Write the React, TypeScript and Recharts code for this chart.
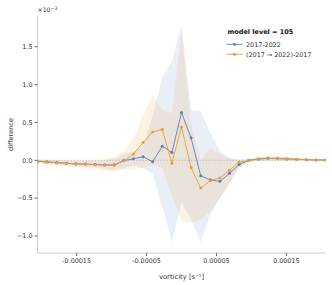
import { ComposedChart, Area, Line, XAxis, YAxis, ReferenceLine } from 'recharts'

// bin centres of vorticity [s^-1]
const vorticity = [
  -0.000206, -0.0001923, -0.0001785, -0.0001648, -0.0001511, -0.0001373, -0.0001236, -0.0001099,
  -0.0000961, -0.0000824, -0.0000687, -0.0000549, -0.0000412, -0.0000275, -0.0000137, 0,
  0.0000137, 0.0000275, 0.0000412, 0.0000549, 0.0000687, 0.0000824, 0.0000961, 0.0001099,
  0.0001236, 0.0001373, 0.0001511, 0.0001648, 0.0001785, 0.0001923, 0.000206,
]

// difference, in units of 1e-3
const diff1722 = [
  -0.012, -0.02, -0.03, -0.038, -0.046, -0.05, -0.054, -0.06, -0.06, -0.004, 0.02, 0.048, -0.018,
  0.187, 0.103, 0.63, 0.297, -0.205, -0.258, -0.278, -0.172, -0.055, 0.0, 0.018, 0.028, 0.024,
  0.018, 0.013, 0.009, 0.005, 0.003,
]
const diffPert = [
  -0.013, -0.022, -0.032, -0.04, -0.049, -0.053, -0.058, -0.066, -0.066, -0.005, 0.083, 0.235,
  0.375, 0.406, -0.038, 0.44, -0.095, -0.366, -0.27, -0.232, -0.13, -0.026, -0.004, 0.016, 0.024,
  0.022, 0.018, 0.012, 0.008, 0.005, 0.003,
]

// spread bands
const low1722 = [
  -0.035, -0.045, -0.058, -0.07, -0.08, -0.085, -0.09, -0.11, -0.12, -0.1, -0.07, -0.1, -0.18,
  -0.62, -1.08, -0.55, -0.78, -1.08, -0.72, -0.5, -0.3, -0.1, -0.02, -0.005, 0, 0, 0, 0, 0, 0, 0,
]
const high1722 = [
  0.012, 0.005, 0, -0.005, -0.008, -0.01, -0.01, 0, 0.02, 0.08, 0.12, 0.18, 0.6, 1.1, 1.3, 1.78,
  0.66, 0.65, 0.36, 0.12, 0.03, 0, 0.015, 0.04, 0.055, 0.05, 0.04, 0.03, 0.02, 0.012, 0.008,
]
const lowPert = [
  -0.04, -0.05, -0.065, -0.08, -0.09, -0.1, -0.11, -0.14, -0.15, -0.12, -0.12, -0.1, -0.06, -0.1,
  -0.46, -0.8, -0.82, -0.78, -0.68, -0.5, -0.3, -0.08, -0.02, -0.01, -0.01, -0.01, -0.005, -0.005,
  -0.003, -0.002, -0.001,
]
const highPert = [
  0.01, 0.005, 0, -0.002, -0.005, -0.005, 0, 0.02, 0.05, 0.12, 0.28, 0.6, 0.87, 0.66, 0.62, 1.7,
  0.47, 0.0, 0.16, 0.08, 0.03, 0.015, 0.02, 0.04, 0.05, 0.05, 0.04, 0.03, 0.02, 0.012, 0.008,
]

const xTicks = [-0.00015, -0.00005, 0.00005, 0.00015]
const yTicks = [-1.0, -0.5, 0.0, 0.5, 1.0, 1.5]

const BLUE = '#5a7fbe'
const ORANGE = '#e8a030'

const data = vorticity.map((v, i) => ({
  v,
  a: diff1722[i],
  b: diffPert[i],
  aBand: [low1722[i], high1722[i]],
  bBand: [lowPert[i], highPert[i]],
}))

const fmtY = (v: number) => (v < 0 ? '\u2212' + Math.abs(v).toFixed(1) : v.toFixed(1))

const font = 'DejaVu Sans'

export default function App() {
  return (
    <div style={{ position: 'fixed', left: 0, top: 0, width: 332, height: 285, background: '#fff', fontFamily: font }}>
      <ComposedChart width={332} height={285} data={data} margin={{ top: 16, right: 6.5, bottom: 4, left: 7.5 }}>
        <XAxis
          dataKey="v"
          type="number"
          domain={[-0.000206, 0.000206]}
          ticks={xTicks}
          tickFormatter={(v) => String(v)}
          allowDataOverflow
          height={28}
          stroke="#cccccc"
          tickLine={{ stroke: '#666' }}
          tickSize={3}
          tick={{ fill: '#333', fontSize: 6.4, fontFamily: font }}
          label={{ value: 'vorticity [s\u207B\u00B9]', position: 'insideBottom', offset: 2, style: { fill: '#333', fontSize: 6.8, fontFamily: font } }}
        />
        <XAxis xAxisId="top" orientation="top" dataKey="v" type="number" domain={[-0.000206, 0.000206]} tick={false} tickLine={false} height={0} stroke="#cccccc" />
        <YAxis
          type="number"
          domain={[-1.224, 1.906]}
          ticks={yTicks}
          tickFormatter={fmtY}
          allowDataOverflow
          width={30}
          stroke="#cccccc"
          tickLine={{ stroke: '#666' }}
          tickSize={3}
          tickMargin={2}
          tick={{ fill: '#333', fontSize: 6.4, fontFamily: font }}
          label={{ value: 'difference', angle: -90, position: 'insideLeft', offset: 3, style: { textAnchor: 'middle', fill: '#333', fontSize: 6.6, fontFamily: font } }}
        />
        <YAxis yAxisId="right" orientation="right" width={0} tick={false} tickLine={false} stroke="#cccccc" />
        <ReferenceLine y={0} stroke="#b5b5b5" strokeWidth={0.8} strokeDasharray="1.5 1.5" />
        <Area type="linear" dataKey="aBand" stroke="none" fill={BLUE} fillOpacity={0.13} isAnimationActive={false} />
        <Line type="linear" dataKey="a" stroke={BLUE} strokeWidth={0.9} dot={{ r: 1.5, fill: BLUE, stroke: 'none' }} isAnimationActive={false} />
        <Area type="linear" dataKey="bBand" stroke="none" fill={ORANGE} fillOpacity={0.14} isAnimationActive={false} />
        <Line type="linear" dataKey="b" stroke={ORANGE} strokeWidth={0.9} dot={{ r: 1.5, fill: ORANGE, stroke: 'none' }} isAnimationActive={false} />
      </ComposedChart>
      <svg width={332} height={285} style={{ position: 'absolute', left: 0, top: 0, pointerEvents: 'none' }}>
        <text x={37.5} y={12} fontSize={6.2} fill="#333" fontFamily={font}>
          ×10<tspan dy={-2.5} fontSize={4.6}>{'\u22123'}</tspan>
        </text>
        <text x={227.5} y={34} fontSize={6.5} fontWeight="bold" fill="#111" fontFamily={font}>model level = 105</text>
        <line x1={226.5} x2={242.5} y1={44.3} y2={44.3} stroke={BLUE} strokeWidth={0.9} />
        <circle cx={234.5} cy={44.3} r={1.5} fill={BLUE} />
        <text x={246} y={46.6} fontSize={6.4} fill="#333" fontFamily={font}>2017-2022</text>
        <line x1={226.5} x2={242.5} y1={54.3} y2={54.3} stroke={ORANGE} strokeWidth={0.9} />
        <circle cx={234.5} cy={54.3} r={1.5} fill={ORANGE} />
        <text x={246} y={56.6} fontSize={6.4} fill="#333" fontFamily={font}>(2017 → 2022)-2017</text>
      </svg>
    </div>
  )
}
